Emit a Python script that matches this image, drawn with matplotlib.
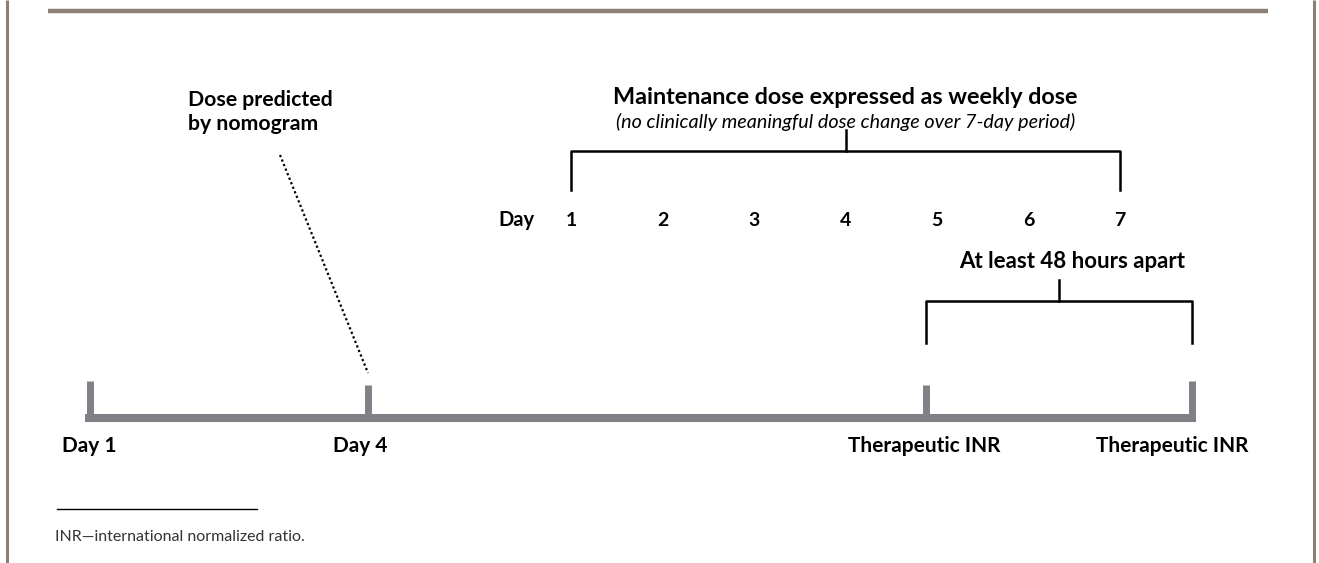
import matplotlib.pyplot as plt

# diagram text
timeline_labels = ["Day 1", "Day 4", "Therapeutic INR", "Therapeutic INR"]
week_days = [1, 2, 3, 4, 5, 6, 7]
title = "Maintenance dose expressed as weekly dose"
subtitle = "(no clinically meaningful dose change over 7-day period)"
nomogram_label = "Dose predicted\nby nomogram"
apart_label = "At least 48 hours apart"
footnote = "INR\u2014international normalized ratio."

W, H = 1319, 563
fig = plt.figure(figsize=(W / 100, H / 100), dpi=100)
ax = fig.add_axes([0, 0, 1, 1])
ax.set_xlim(0, W)
ax.set_ylim(H, 0)
ax.axis("off")

plt.rcParams['font.family'] = ['Lato', 'DejaVu Sans']
frame = "#8a8174"
bar = "#818086"

# frame
ax.plot([7, 7], [0, H], color=frame, lw=2.2, solid_capstyle="butt")
ax.plot([1314, 1314], [0, H], color=frame, lw=2.2, solid_capstyle="butt")
ax.plot([48, 1268], [11, 11], color=frame, lw=3.2, solid_capstyle="butt")

# timeline
tick_x = [90, 368, 926, 1192]
tick_top = [381, 385, 385, 381]
ax.plot([85, 1196], [418, 418], color=bar, lw=5.8, solid_capstyle="butt")
for x, t in zip(tick_x, tick_top):
    ax.plot([x, x], [t, 418], color=bar, lw=5, solid_capstyle="butt")

label_x = [89, 360, 924, 1172]
for x, lab in zip(label_x, timeline_labels):
    ax.text(x, 446, lab, ha="center", va="center", fontsize=15, fontweight="bold")

# nomogram note
ax.text(188, 112, nomogram_label, ha="left", va="center", fontsize=15.3,
        fontweight="bold", linespacing=1.2)
ax.plot([280, 368], [155, 373], color="black", lw=1.6, ls=(0, (1, 1.2)))

# maintenance week
day_x = [571 + i * 91.5 for i in range(len(week_days))]
ax.text(516, 220, "Day", ha="center", va="center", fontsize=14.5, fontweight="bold")
for x, d in zip(day_x, week_days):
    ax.text(x, 220, str(d), ha="center", va="center", fontsize=14, fontweight="bold")

ax.plot([day_x[0], day_x[0], day_x[-1], day_x[-1]], [190, 151, 151, 190],
        color="black", lw=1.8)
mid = (day_x[0] + day_x[-1]) / 2
ax.plot([mid, mid], [130, 151], color="black", lw=1.8)
ax.text(mid, 98, title, ha="center", va="center", fontsize=16.8, fontweight="bold")
ax.text(mid, 122, subtitle, ha="center", va="center", fontsize=14.2, style="italic")

# 48 hours bracket
ax.plot([tick_x[2], tick_x[2], tick_x[3], tick_x[3]], [343, 301, 301, 343],
        color="black", lw=1.8)
mid2 = (tick_x[2] + tick_x[3]) / 2
ax.plot([mid2, mid2], [280, 301], color="black", lw=1.8)
ax.text(mid2 + 13, 262, apart_label, ha="center", va="center", fontsize=16, fontweight="bold")

# footnote
ax.plot([57, 257], [509, 509], color="black", lw=1)
ax.text(55, 537, footnote, ha="left", va="center", fontsize=11.5, color="#333333")

fig.savefig("out.png", dpi=100)
